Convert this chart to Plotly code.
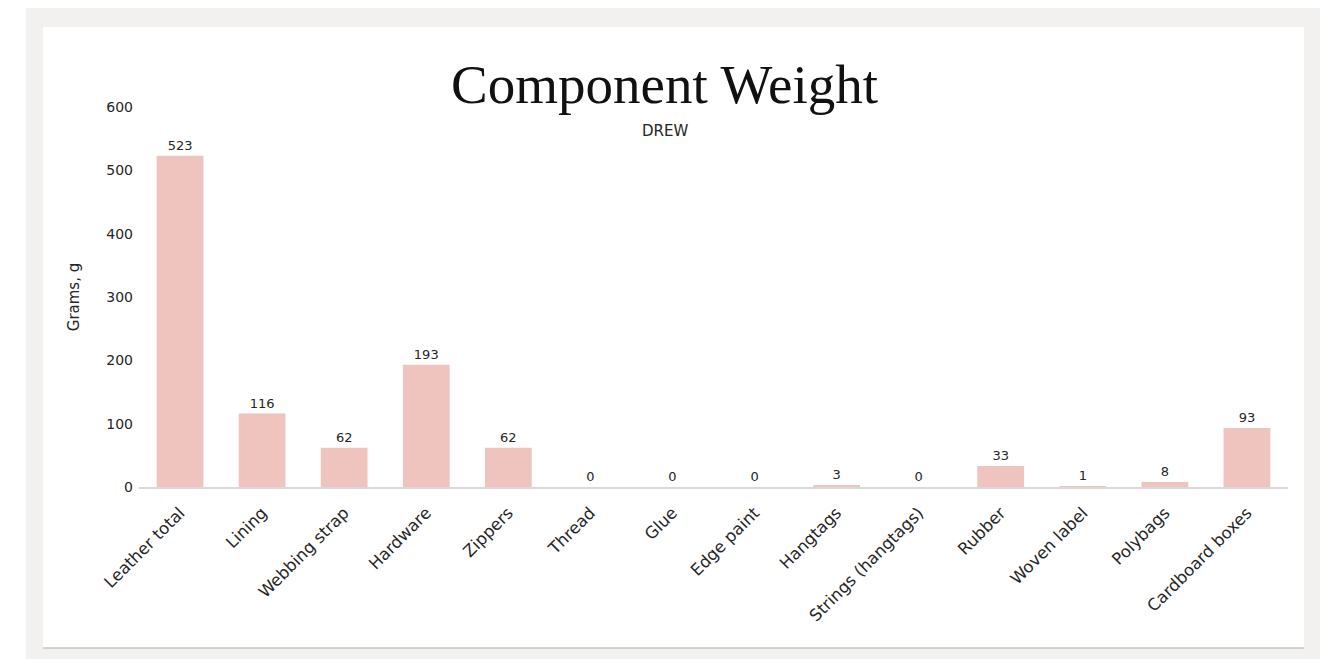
import plotly.graph_objects as go

categories = ["Leather total", "Lining", "Webbing strap", "Hardware", "Zippers", "Thread",
              "Glue", "Edge paint", "Hangtags", "Strings (hangtags)", "Rubber", "Woven label",
              "Polybags", "Cardboard boxes"]
weights = [523, 116, 62, 193, 62, 0, 0, 0, 3, 0, 33, 1, 8, 93]
y_ticks = [0, 100, 200, 300, 400, 500, 600]

# page body has an 8px margin; map screen pixels to figure paper coords
OFF = 8
W, H = 1313, 651

def px(x):
    return (x - OFF) / W

def py(y):
    return 1 - (y - OFF) / H

SANS = "DejaVu Sans"
TXT = "#262626"

fig = go.Figure()
fig.add_trace(go.Bar(
    x=categories, y=weights,
    marker=dict(color="#efc4be", line=dict(width=0)),
    text=[str(v) for v in weights], textposition="outside",
    textfont=dict(family=SANS, size=13, color=TXT),
    cliponaxis=False,
))

fig.update_layout(
    width=W, height=H,
    margin=dict(l=0, r=0, t=0, b=0),
    paper_bgcolor="white",
    plot_bgcolor="rgba(0,0,0,0)",
    bargap=0.43,
    showlegend=False,
    title=dict(text="Component Weight", x=0.5, xanchor="center", y=py(84), yanchor="middle",
               font=dict(family="Liberation Serif", size=55, color="#111111")),
    annotations=[dict(text="DREW", x=0.5, xref="paper", y=py(131), yref="paper",
                      showarrow=False, xanchor="center", yanchor="middle",
                      font=dict(family=SANS, size=15, color=TXT))],
    shapes=[
        dict(type="rect", xref="paper", yref="paper", x0=px(26), x1=px(1320), y0=py(662), y1=py(7),
             fillcolor="#f2f1ef", line=dict(width=0), layer="below"),
        dict(type="rect", xref="paper", yref="paper", x0=px(43), x1=px(1304), y0=py(648), y1=py(27),
             fillcolor="white", line=dict(width=0), layer="below"),
        dict(type="line", xref="paper", yref="paper", x0=px(43), x1=px(1304), y0=py(648), y1=py(648),
             line=dict(color="#c4c4c4", width=1.5), layer="below"),
    ],
    xaxis=dict(
        domain=[px(139), px(1288)],
        showline=True, linecolor="#d9d9d9", linewidth=1.5,
        showgrid=False, ticks="", tickangle=-45, automargin=False,
        ticklabelstandoff=8,
        tickfont=dict(family=SANS, size=16.5, color=TXT),
    ),
    yaxis=dict(
        domain=[py(487), py(107)],
        range=[0, 600], tickvals=y_ticks,
        showline=False, showgrid=False, zeroline=False, ticks="", automargin=False,
        ticklabelstandoff=5,
        tickfont=dict(family=SANS, size=14, color=TXT),
        title=dict(text="Grams, g", standoff=23, font=dict(family=SANS, size=15, color=TXT)),
    ),
)

fig.write_html("out.html")
